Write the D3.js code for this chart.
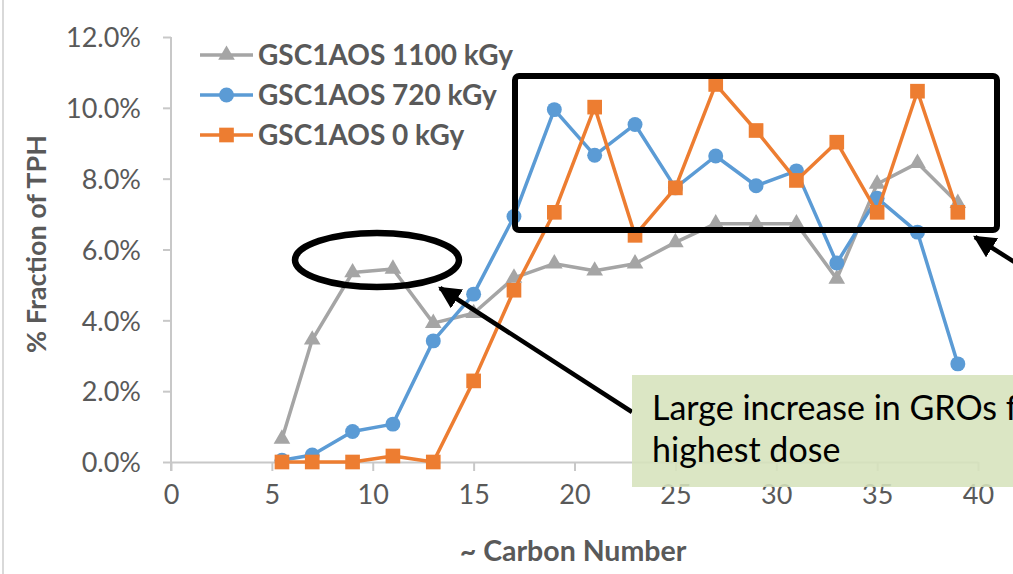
<!DOCTYPE html>
<html>
<head>
<meta charset="utf-8">
<script src="https://cdn.jsdelivr.net/npm/d3@7"></script>
<style>
  body { margin: 0; background: #fff; }
  svg { display: block; font-family: Lato, "Open Sans", sans-serif; }
</style>
</head>
<body>
<div id="chart"></div>
<script>
// data (fractions of TPH)
var carbon = [5.5, 7, 9, 11, 13, 15, 17, 19, 21, 23, 25, 27, 29, 31, 33, 35, 37, 39];
var dose1100 = [0.0065, 0.0345, 0.0535, 0.0545, 0.0392, 0.0420, 0.0520, 0.0560, 0.0540, 0.0560, 0.0620, 0.0673, 0.0673, 0.0673, 0.0517, 0.0785, 0.0844, 0.0731];
var dose720 = [0.0005, 0.0020, 0.0086, 0.0107, 0.0342, 0.0474, 0.0693, 0.0995, 0.0866, 0.0953, 0.0774, 0.0864, 0.0780, 0.0822, 0.0562, 0.0745, 0.0649, 0.0277];
var dose0 = [0.0000, 0.0000, 0.0000, 0.0017, 0.0000, 0.0229, 0.0485, 0.0705, 0.1002, 0.0640, 0.0774, 0.1066, 0.0936, 0.0795, 0.0903, 0.0705, 0.1047, 0.0705];
var seriesNames = ["GSC1AOS 1100 kGy", "GSC1AOS 720 kGy", "GSC1AOS 0 kGy"];
var xTicks = [0, 5, 10, 15, 20, 25, 30, 35, 40];
var yTicks = [0, 0.02, 0.04, 0.06, 0.08, 0.10, 0.12];

var svgWidth = 1013;
var svgHeight = 574;

var svg = d3.select("#chart")
  .append("svg")
  .attr("width", svgWidth)
  .attr("height", svgHeight);

var x = d3.scaleLinear().domain([0, 40]).range([171, 978]);
var y = d3.scaleLinear().domain([0, 0.12]).range([462, 37]);

var axisColor = "#c8c8c8";
var textColor = "#595959";

// outer chart border on the left
svg.append("line")
  .attr("x1", 3).attr("x2", 3)
  .attr("y1", 0).attr("y2", svgHeight)
  .attr("stroke", "#d9d9d9").attr("stroke-width", 2);

// axes
var xAxis = svg.append("g")
  .attr("transform", "translate(0," + y(0) + ")")
  .call(d3.axisBottom(x).tickValues(xTicks).tickSize(9).tickSizeOuter(0).tickPadding(14));

var yAxis = svg.append("g")
  .attr("transform", "translate(" + x(0) + ",0)")
  .call(d3.axisLeft(y).tickValues(yTicks).tickSize(8).tickSizeOuter(0).tickPadding(22)
    .tickFormat(d3.format(".1%")));

[xAxis, yAxis].forEach(function(g) {
  g.select(".domain").attr("stroke", axisColor).attr("stroke-width", 2);
  g.selectAll(".tick line").attr("stroke", axisColor).attr("stroke-width", 2);
  g.selectAll(".tick text")
    .attr("fill", textColor)
    .attr("font-size", "27px")
    .attr("font-family", "Lato, sans-serif");
});
yAxis.selectAll(".tick text").attr("dy", "0.36em");
// y axis line extends slightly below the x axis like the zero tick
yAxis.select(".domain").attr("d", "M0," + y(0.12) + "V" + (y(0) + 9));

// axis titles
svg.append("text")
  .attr("x", 573).attr("y", 561)
  .attr("text-anchor", "middle")
  .attr("font-size", "28.5px").attr("font-weight", "bold")
  .attr("fill", textColor)
  .text("~ Carbon Number");

svg.append("text")
  .attr("transform", "translate(46,244) rotate(-90)")
  .attr("text-anchor", "middle")
  .attr("font-size", "27px").attr("font-weight", "bold")
  .attr("fill", textColor)
  .text("% Fraction of TPH");

// series
var series = [
  { name: seriesNames[0], values: dose1100, color: "#a5a5a5", symbol: d3.symbolTriangle, size: 120 },
  { name: seriesNames[1], values: dose720, color: "#5b9bd5", symbol: d3.symbolCircle, size: 175 },
  { name: seriesNames[2], values: dose0, color: "#ed7d31", symbol: d3.symbolSquare, size: 215 }
];

var line = d3.line()
  .x(function(d) { return x(d[0]); })
  .y(function(d) { return y(d[1]); });

series.forEach(function(s) {
  var pts = carbon.map(function(c, i) { return [c, s.values[i]]; });
  var g = svg.append("g");
  g.append("path")
    .datum(pts)
    .attr("d", line)
    .attr("fill", "none")
    .attr("stroke", s.color)
    .attr("stroke-width", 3.5)
    .attr("stroke-linejoin", "round");
  g.selectAll("path.pt")
    .data(pts)
    .enter()
    .append("path")
    .attr("class", "pt")
    .attr("transform", function(d) { return "translate(" + x(d[0]) + "," + y(d[1]) + ")"; })
    .attr("d", d3.symbol().type(s.symbol).size(s.size))
    .attr("fill", s.color);
});

// legend
var legend = svg.append("g");
series.forEach(function(s, i) {
  var ly = 55 + i * 40;
  legend.append("line")
    .attr("x1", 200).attr("x2", 253)
    .attr("y1", ly).attr("y2", ly)
    .attr("stroke", s.color).attr("stroke-width", 3.5);
  legend.append("path")
    .attr("transform", "translate(226.5," + ly + ")")
    .attr("d", d3.symbol().type(s.symbol).size(s.size))
    .attr("fill", s.color);
  legend.append("text")
    .attr("x", 258).attr("y", ly)
    .attr("dy", "0.36em")
    .attr("font-size", "28px").attr("font-weight", "bold")
    .attr("fill", textColor)
    .text(s.name);
});

// annotations
svg.append("rect")
  .attr("x", 515).attr("y", 76)
  .attr("width", 482).attr("height", 154)
  .attr("rx", 4)
  .attr("fill", "none")
  .attr("stroke", "#000").attr("stroke-width", 6);

svg.append("ellipse")
  .attr("cx", 377).attr("cy", 260)
  .attr("rx", 82).attr("ry", 27)
  .attr("fill", "none")
  .attr("stroke", "#000").attr("stroke-width", 6.5);

svg.append("defs").append("marker")
  .attr("id", "arrow")
  .attr("viewBox", "0 0 10 10")
  .attr("refX", 9).attr("refY", 5)
  .attr("markerWidth", 5).attr("markerHeight", 5)
  .attr("orient", "auto")
  .append("path")
  .attr("d", "M0,0L10,5L0,10Z")
  .attr("fill", "#000");

svg.append("line")
  .attr("x1", 632).attr("y1", 412)
  .attr("x2", 440).attr("y2", 288)
  .attr("stroke", "#000").attr("stroke-width", 4.5)
  .attr("marker-end", "url(#arrow)");

svg.append("line")
  .attr("x1", 1030).attr("y1", 272)
  .attr("x2", 975).attr("y2", 237)
  .attr("stroke", "#000").attr("stroke-width", 4.5)
  .attr("marker-end", "url(#arrow)");

svg.append("rect")
  .attr("x", 632).attr("y", 375)
  .attr("width", 400).attr("height", 112)
  .attr("fill", "#d6e3bc")
  .attr("opacity", 0.88);

svg.append("text")
  .attr("x", 652).attr("y", 420)
  .attr("font-size", "34px")
  .attr("fill", "#000")
  .text("Large increase in GROs for");

svg.append("text")
  .attr("x", 652).attr("y", 462)
  .attr("font-size", "34px")
  .attr("fill", "#000")
  .text("highest dose");
</script>
</body>
</html>
